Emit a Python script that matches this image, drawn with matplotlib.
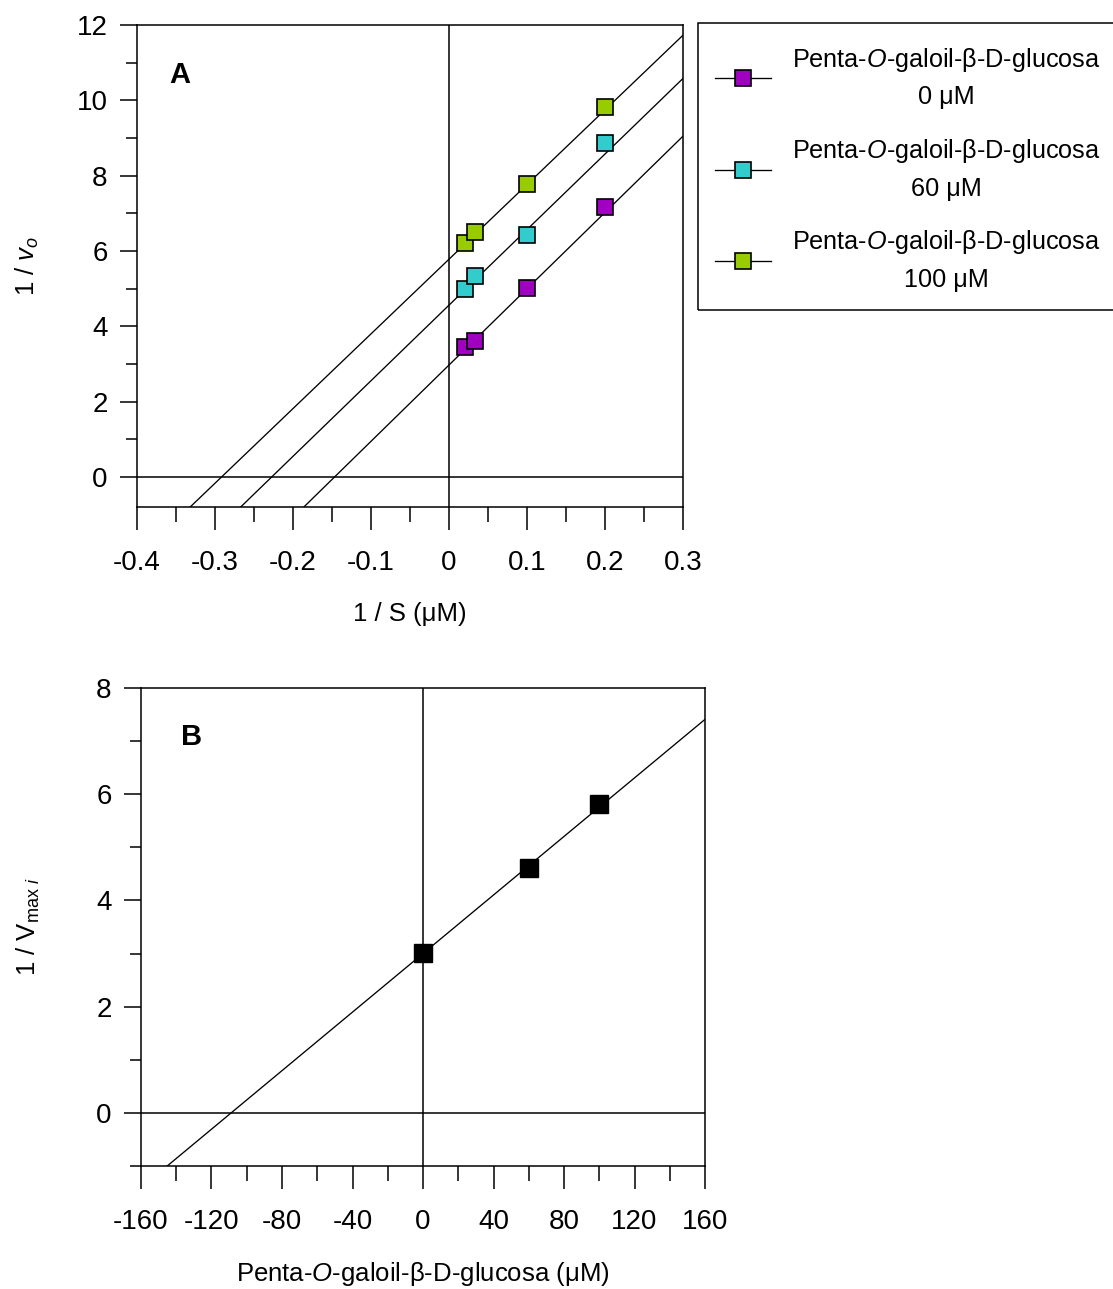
import matplotlib
matplotlib.use("Agg")
import matplotlib.pyplot as plt
import numpy as np
from matplotlib.lines import Line2D
from matplotlib.patches import Rectangle
from matplotlib.ticker import MultipleLocator, FuncFormatter

# ---------------- data ----------------
inv_s = [0.02, 0.0333, 0.1, 0.2]
inv_v0_0uM = [3.45, 3.62, 5.02, 7.16]
inv_v0_60uM = [5.00, 5.33, 6.42, 8.86]
inv_v0_100uM = [6.21, 6.51, 7.79, 9.81]
fit_intercepts = [2.97, 4.56, 5.78]
fit_slopes = [20.26, 20.07, 19.83]
series_labels = ["Penta-$\\mathit{O}$-galoil-β-D-glucosa\n0 μM",
                 "Penta-$\\mathit{O}$-galoil-β-D-glucosa\n60 μM",
                 "Penta-$\\mathit{O}$-galoil-β-D-glucosa\n100 μM"]
series_colors = ["#a000c0", "#33cccc", "#99cc00"]

inhibitor_uM = [0, 60, 100]
inv_vmax = [3.01, 4.61, 5.82]
vmax_fit_intercept = 3.0
vmax_fit_slope = 0.02756

# ---------------- fonts ----------------
main_font = "Liberation Sans"
plt.rcParams['font.family'] = [main_font, 'DejaVu Sans']
plt.rcParams['mathtext.fontset'] = 'custom'
plt.rcParams['mathtext.rm'] = main_font
plt.rcParams['mathtext.it'] = main_font + ':italic'
plt.rcParams['mathtext.bf'] = main_font + ':bold'
plt.rcParams['axes.unicode_minus'] = False

W, H = 1113, 1289
fig = plt.figure(figsize=(W / 100, H / 100), dpi=100)

def fx(px):
    return px / W

def fy(py):
    return 1 - py / H

axA = fig.add_axes([fx(137), fy(507), fx(683) - fx(137), fy(25) - fy(507)])
axB = fig.add_axes([fx(141), fy(1166), fx(705) - fx(141), fy(688) - fy(1166)])

TICK_FS = 20
LAB_FS = 18.5
spine_lw = 1.1
line_lw = 0.95

def style_axes(ax):
    for s in ax.spines.values():
        s.set_linewidth(spine_lw)
    ax.tick_params(axis='x', which='major', direction='out', length=16.5, width=spine_lw,
                   labelsize=TICK_FS, pad=14.5, top=False)
    ax.tick_params(axis='x', which='minor', direction='out', length=11, width=spine_lw, top=False)
    ax.tick_params(axis='y', which='major', direction='out', length=12.5, width=spine_lw,
                   labelsize=TICK_FS, pad=8.6, right=False)
    ax.tick_params(axis='y', which='minor', direction='out', length=8, width=spine_lw, right=False)

# ---------------- panel A ----------------
axA.set_xlim(-0.4, 0.3)
axA.set_ylim(-0.8, 12)
axA.axhline(0, color='black', lw=spine_lw, zorder=1)
axA.axvline(0, color='black', lw=spine_lw, zorder=1)
xs = np.array([-0.4, 0.3])
series = [inv_v0_0uM, inv_v0_60uM, inv_v0_100uM]
handles = []
for ys, b, m, c in zip(series, fit_intercepts, fit_slopes, series_colors):
    axA.plot(xs, b + m * xs, color='black', lw=line_lw, zorder=2)
    axA.plot(inv_s, ys, linestyle='none', marker='s', markersize=12.2,
             markerfacecolor=c, markeredgecolor='black', markeredgewidth=1.2, zorder=3)
    handles.append(Line2D([], [], color='black', lw=line_lw, marker='s', markersize=12.2,
                          markerfacecolor=c, markeredgecolor='black', markeredgewidth=1.2))
axA.xaxis.set_major_locator(MultipleLocator(0.1))
axA.xaxis.set_minor_locator(MultipleLocator(0.05))
axA.yaxis.set_major_locator(MultipleLocator(2))
axA.yaxis.set_minor_locator(MultipleLocator(1))
axA.xaxis.set_major_formatter(FuncFormatter(lambda v, p: "0" if abs(v) < 1e-9 else f"{v:.1f}"))
style_axes(axA)
axA.set_xlabel("1 / S (μM)", fontsize=LAB_FS)
axA.xaxis.set_label_coords(0.5, -0.197)
axA.set_ylabel("1 / $\\mathit{v}_{\\mathit{o}}$", fontsize=LAB_FS)
axA.yaxis.set_label_coords(-0.176, 0.5)
axA.text(fx(180), fy(75), "A", transform=fig.transFigure, fontsize=21, fontweight='bold',
         ha='center', va='center')

# legend: frame drawn as a figure rectangle, entries from a frameless legend
fig.patches.append(Rectangle((fx(698), fy(310)), fx(1130) - fx(698), fy(23) - fy(310),
                             transform=fig.transFigure, fill=False, edgecolor='black',
                             linewidth=spine_lw))
leg = fig.legend(handles, series_labels, loc='upper left',
                 bbox_to_anchor=(fx(715), fy(46)), frameon=False,
                 fontsize=18.2, borderpad=0, handlelength=2.22,
                 handletextpad=0.82, labelspacing=1.1, borderaxespad=0)
for t in leg.get_texts():
    t.set_multialignment('center')
    t.set_linespacing(1.6)

# ---------------- panel B ----------------
axB.set_xlim(-160, 160)
axB.set_ylim(-1, 8)
axB.axhline(0, color='black', lw=spine_lw, zorder=1)
axB.axvline(0, color='black', lw=spine_lw, zorder=1)
xb = np.array([-160, 160])
axB.plot(xb, vmax_fit_intercept + vmax_fit_slope * xb, color='black', lw=line_lw, zorder=2)
axB.plot(inhibitor_uM, inv_vmax, linestyle='none', marker='s', markersize=13,
         markerfacecolor='black', markeredgecolor='black', zorder=3)
axB.xaxis.set_major_locator(MultipleLocator(40))
axB.xaxis.set_minor_locator(MultipleLocator(20))
axB.yaxis.set_major_locator(MultipleLocator(2))
axB.yaxis.set_minor_locator(MultipleLocator(1))
style_axes(axB)
axB.set_xlabel("Penta-$\\mathit{O}$-galoil-β-D-glucosa (μM)", fontsize=LAB_FS)
axB.xaxis.set_label_coords(0.5, -0.196)
axB.set_ylabel("1 / V$_{\\mathrm{max}\\ \\mathit{i}}$", fontsize=LAB_FS)
axB.yaxis.set_label_coords(-0.176, 0.5)
axB.text(fx(192), fy(737), "B", transform=fig.transFigure, fontsize=21, fontweight='bold',
         ha='center', va='center')

fig.savefig("out.png", dpi=100)
